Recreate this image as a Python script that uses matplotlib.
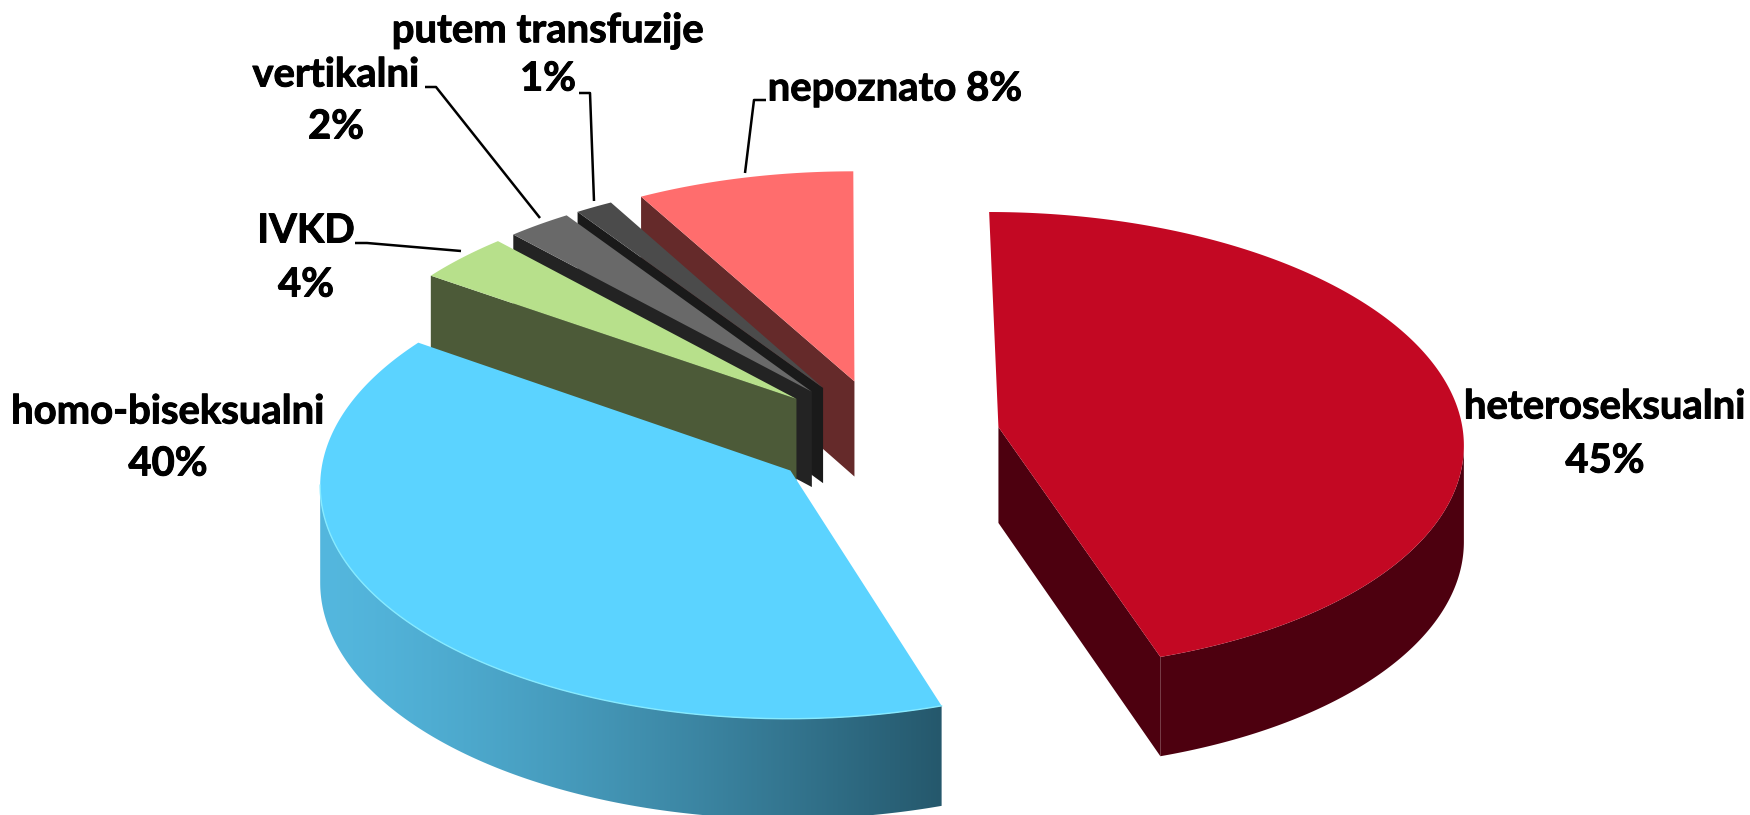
import numpy as np
import matplotlib
matplotlib.use("Agg")
import matplotlib.pyplot as plt
import matplotlib.patheffects as pe
from matplotlib.patches import Polygon
from matplotlib.colors import to_rgb

# -----------------------------
# Data
# -----------------------------
categories = ["heteroseksualni", "homo-biseksualni", "IVKD", "vertikalni", "putem transfuzije", "nepoznato"]
shares = [45.0, 39.6, 3.5, 2.4, 1.4, 8.1]
percent_labels = ["45%", "40%", "4%", "2%", "1%", "8%"]

top_colors = ["#c30823", "#5bd3ff", "#b7e08b", "#696969", "#4b4b4b", "#ff6d6d"]
side_left = ["#4d000f", "#54b7de", "#4c5a38", "#232323", "#1a1a1a", "#652a2a"]
side_right = ["#4d000f", "#25586c", "#4c5a38", "#232323", "#1a1a1a", "#652a2a"]

# drawn from the back of the pie to the front
draw_order = [5, 4, 3, 2, 0, 1]

# -----------------------------
# Projection of the 3D pie
# -----------------------------
CX, CY = 884, 436
RX, RY = 465, 229
SHEAR = -3
PERSP = 0.06
DEPTH = 96
EXPLODE = 0.25


def project(u, v, down=0.0):
    w = 1 + PERSP * v
    return CX + (RX * u + SHEAR * v) / w, CY - RY * v / w + down * DEPTH / w ** 0.6


fig = plt.figure(figsize=(17.5, 8.15), dpi=100)
ax = fig.add_axes([0, 0, 1, 1])

edges = np.cumsum([0] + shares) / sum(shares) * 2 * np.pi
z = 1

for i in draw_order:
    t1, t2 = edges[i], edges[i + 1]
    mid = (t1 + t2) / 2
    ou, ov = EXPLODE * np.sin(mid), EXPLODE * np.cos(mid)
    tt = np.linspace(t1, t2, 300)
    us = ou + np.sin(tt)
    vs = ov + np.cos(tt)

    # cut faces looking towards the viewer
    for t, vis in ((t1, np.sin(t1) < -1e-9), (t2, np.sin(t2) > 1e-9)):
        if not vis:
            continue
        eu, ev = ou + np.sin(t), ov + np.cos(t)
        face = [project(ou, ov), project(eu, ev), project(eu, ev, 1), project(ou, ov, 1)]
        ax.add_patch(Polygon(face, closed=True, fc=side_right[i], ec="none", zorder=z))
        z += 1

    # outer rim, only the front part, between the left and right extremes
    front = np.cos(tt) < 0.3
    if front.any():
        fu, fv = us[front], vs[front]
        tx, ty = project(fu, fv)
        lo, hi = np.argmax(tx), np.argmin(tx) + 1
        fu, fv = fu[lo:hi], fv[lo:hi]
        tx, ty = project(fu, fv)
        bx, by = project(fu, fv, 1)
        rim = np.r_[np.c_[tx, ty], np.c_[bx, by][::-1]]
        if side_left[i] == side_right[i]:
            ax.add_patch(Polygon(rim, closed=True, fc=side_left[i], ec="none", zorder=z))
        else:
            # left to right shading, clipped to the rim outline
            c_l, c_r = np.array(to_rgb(side_left[i])), np.array(to_rgb(side_right[i]))
            f = np.linspace(0, 1, 400)[None, :, None] ** 1.3
            shade = c_l + (c_r - c_l) * f
            clip = Polygon(rim, closed=True, fc="none", ec="none", transform=ax.transData)
            ax.add_patch(clip)
            im = ax.imshow(shade, extent=[rim[:, 0].min(), rim[:, 0].max(), rim[:, 1].max(), rim[:, 1].min()],
                           aspect="auto", zorder=z)
            im.set_clip_path(clip)
        z += 1

    # top surface
    xs, ys = project(np.r_[ou, us], np.r_[ov, vs])
    ax.add_patch(Polygon(np.c_[xs, ys], closed=True, fc=top_colors[i], ec="none", zorder=z))
    z += 1

    # thin highlight along the blue front edge
    if i == 1:
        ax.plot(tx, ty, color="#86eaff", lw=1.0, zorder=z)
        z += 1

ax.set_xlim(0, 1750)
ax.set_ylim(815, 0)
ax.axis("off")

# -----------------------------
# Labels and leader lines
# -----------------------------
label_style = dict(family="Lato", weight="bold", fontsize=28.8, color="black", ha="center", va="center",
                   zorder=2000, path_effects=[pe.withStroke(linewidth=0.7, foreground="black")])

ax.text(1605, 407, categories[0], **label_style)
ax.text(1605, 461, percent_labels[0], **label_style)
ax.text(168, 412, categories[1], **label_style)
ax.text(168, 464, percent_labels[1], **label_style)
ax.text(306, 231, categories[2], **label_style)
ax.text(306, 285, percent_labels[2], **label_style)
ax.text(336, 75, categories[3], **label_style)
ax.text(336, 127, percent_labels[3], **label_style)
ax.text(548, 31, categories[4], **label_style)
ax.text(548, 79, percent_labels[4], **label_style)
ax.text(895, 89, f"{categories[5]} {percent_labels[5]}", **label_style)

leaders = [
    ([355, 367, 461], [243, 243, 251]),
    ([425, 436, 540], [87, 87, 218]),
    ([579, 590, 594], [93, 93, 201]),
    ([766, 754, 745], [100, 100, 173]),
]
for lx, ly in leaders:
    ax.plot(lx, ly, color="black", lw=1.8, zorder=1500, solid_capstyle="butt")

fig.savefig("out.png", dpi=100)
